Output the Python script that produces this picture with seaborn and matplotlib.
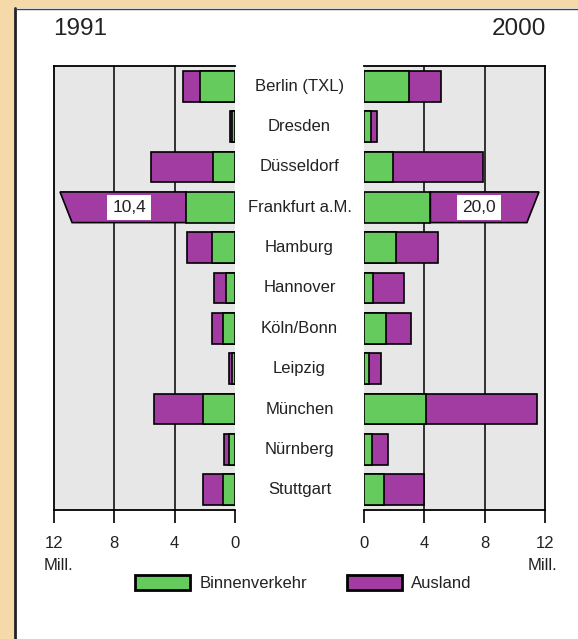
import numpy as np
import pandas as pd
import seaborn as sns
import matplotlib.pyplot as plt
from matplotlib.patches import Polygon, Patch, Rectangle
from matplotlib.lines import Line2D
from matplotlib.transforms import blended_transform_factory

sns.set_style('white')
plt.rcParams['font.family'] = ['Liberation Sans', 'DejaVu Sans']

# Fluggaeste in Mill. (Binnenverkehr + Ausland = gesamt)
airports = ['Berlin (TXL)', 'Dresden', 'Düsseldorf', 'Frankfurt a.M.', 'Hamburg',
            'Hannover', 'Köln/Bonn', 'Leipzig', 'München', 'Nürnberg', 'Stuttgart']
binnen_1991 = [2.3, 0.2, 1.45, 3.25, 1.5, 0.6, 0.8, 0.2, 2.1, 0.4, 0.8]
gesamt_1991 = [3.45, 0.35, 5.55, 10.4, 3.2, 1.4, 1.5, 0.4, 5.35, 0.75, 2.1]
binnen_2000 = [3.0, 0.45, 1.9, 4.4, 2.1, 0.6, 1.45, 0.35, 4.1, 0.55, 1.3]
gesamt_2000 = [5.1, 0.85, 7.9, 20.0, 4.9, 2.65, 3.1, 1.1, 11.45, 1.6, 4.0]
ticks = [0, 4, 8, 12]
years = ['1991', '2000']
series = ['Binnenverkehr', 'Ausland']
highlight = 'Frankfurt a.M.'   # Balken mit Wertangabe, abgeschnitten gezeichnet

GREEN = '#64cb5c'
PURPLE = '#a23ca3'
PANEL = '#e7e7e7'
TAN = '#f6d9a8'
XMAX = 12
CUT_TOP, CUT_BOTTOM = 11.6, 10.8   # schraeger Abschnitt
BAR_W = 0.76
EDGE = 1.2

W, H = 578, 639
fig = plt.figure(figsize=(W / 100, H / 100), dpi=100, facecolor=TAN)

# weisse Innenflaeche mit dunkler Kante links/oben
fig.patches.append(Rectangle((14 / W, 0), 1 - 14 / W, 1 - 8 / H, transform=fig.transFigure,
                             facecolor='white', edgecolor='none', zorder=-5))
fig.lines.append(Line2D([15 / W, 15 / W], [0, 1 - 8 / H], transform=fig.transFigure,
                        color='#222222', lw=2, zorder=-4))
fig.lines.append(Line2D([15 / W, 1], [1 - 8.5 / H, 1 - 8.5 / H], transform=fig.transFigure,
                        color='#444444', lw=1, zorder=-4))

bottom = 1 - 510 / H
height = 444 / H
ax_l = fig.add_axes([54 / W, bottom, 181 / W, height])
ax_r = fig.add_axes([364 / W, bottom, 181 / W, height])

for ax, binnen, gesamt, side in [(ax_l, binnen_1991, gesamt_1991, 'left'),
                                 (ax_r, binnen_2000, gesamt_2000, 'right')]:
    df = pd.DataFrame({'airport': airports, 'binnen': binnen, 'gesamt': gesamt})
    df['gesamt_plot'] = np.where(df['airport'] == highlight, np.nan, df['gesamt'])

    ax.set_facecolor(PANEL)
    ax.set_axisbelow(True)
    sns.barplot(data=df, x='gesamt_plot', y='airport', order=airports, color=PURPLE,
                edgecolor='black', linewidth=EDGE, width=BAR_W, saturation=1,
                orient='h', ax=ax)

    # hervorgehobener Balken: abgeschraegt + Wertlabel
    for i, row in df.iterrows():
        if row['airport'] == highlight:
            top, bot = i - BAR_W / 2, i + BAR_W / 2
            ax.add_patch(Polygon([(row['binnen'], top), (CUT_TOP, top),
                                  (CUT_BOTTOM, bot), (row['binnen'], bot)],
                                 closed=True, facecolor=PURPLE, edgecolor='black',
                                 linewidth=EDGE, zorder=2))
            ax.text((row['binnen'] + CUT_BOTTOM) / 2, i,
                    f"{row['gesamt']:.1f}".replace('.', ','), ha='center', va='center',
                    fontsize=12.5, color='#222222', zorder=4,
                    bbox=dict(boxstyle='square,pad=0.3', facecolor='white', edgecolor='none'))

    sns.barplot(data=df, x='binnen', y='airport', order=airports, color=GREEN,
                edgecolor='black', linewidth=EDGE, width=BAR_W, saturation=1,
                orient='h', ax=ax)
    for p in ax.patches:
        p.set_zorder(max(p.get_zorder(), 2))
    for p in ax.patches[-len(airports):]:
        p.set_zorder(3)

    ax.vlines(ticks[1:-1], -0.5, len(airports) - 0.5, color='black', lw=1.1, zorder=1)
    ax.set_ylim(len(airports) - 0.5, -0.5)
    if side == 'left':
        ax.set_xlim(XMAX, 0)
        ax.spines['right'].set_visible(False)
    else:
        ax.set_xlim(0, XMAX)
        ax.spines['left'].set_visible(False)
    for s in ['top', 'bottom', 'left', 'right']:
        ax.spines[s].set_color('black')
        ax.spines[s].set_linewidth(1.3)
    ax.set_xticks(ticks)
    ax.set_xticklabels([str(t) for t in ticks])
    ax.set_yticks([])
    ax.set_xlabel('')
    ax.set_ylabel('')
    ax.tick_params(axis='x', direction='out', length=9.5, width=1.2, pad=9,
                   labelsize=12, colors='black', labelcolor='#222222', bottom=True)

# Flughafennamen in der Mitte
trans = blended_transform_factory(fig.transFigure, ax_l.transData)
for i, name in enumerate(airports):
    fig.text(299.5 / W, i, name, transform=trans, ha='center', va='center',
             fontsize=12, color='#222222')

fig.text(53 / W, 1 - 29 / H, years[0], ha='left', va='center', fontsize=17.5, color='#222222')
fig.text(546 / W, 1 - 29 / H, years[1], ha='right', va='center', fontsize=17.5, color='#222222')
fig.text(44 / W, 1 - 565 / H, 'Mill.', ha='left', va='center', fontsize=12, color='#222222')
fig.text(557 / W, 1 - 565 / H, 'Mill.', ha='right', va='center', fontsize=12, color='#222222')

handles = [Patch(facecolor=GREEN, edgecolor='black', linewidth=2),
           Patch(facecolor=PURPLE, edgecolor='black', linewidth=2)]
fig.legend(handles, series, loc='center left', bbox_to_anchor=(135 / W, 1 - 583 / H),
           ncol=2, frameon=False, fontsize=12, handlelength=3.3, handleheight=1.0,
           handletextpad=0.55, columnspacing=2.4, borderpad=0, borderaxespad=0,
           labelcolor='#222222')

fig.savefig('out.png', dpi=100, facecolor=TAN)
